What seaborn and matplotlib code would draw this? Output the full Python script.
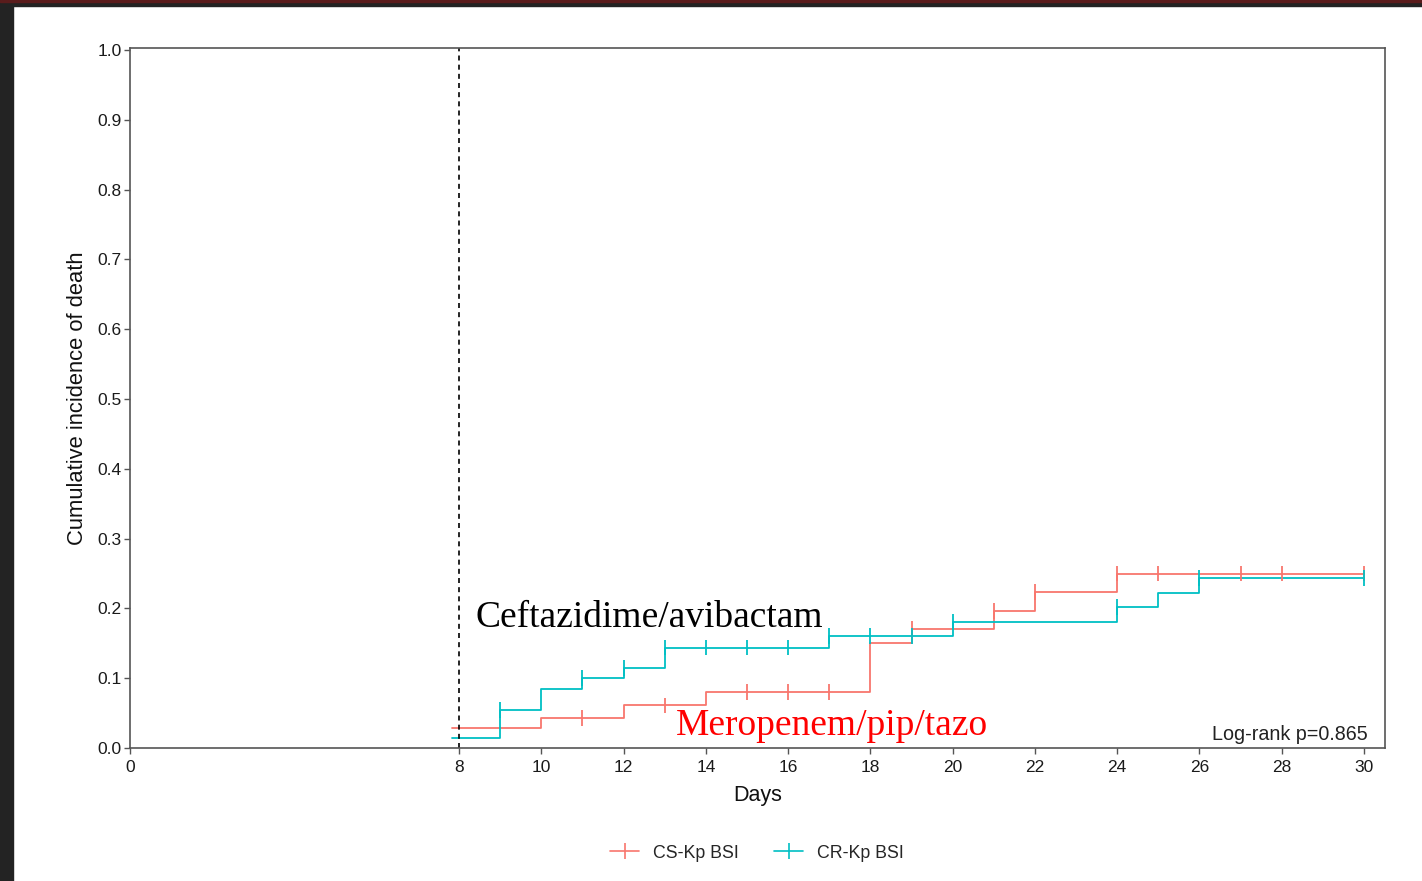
import numpy as np
import pandas as pd
import matplotlib
matplotlib.use("Agg")
import matplotlib.pyplot as plt
from matplotlib.lines import Line2D
from matplotlib.patches import Rectangle
import seaborn as sns

# ---- data ----
groups = ["CS-Kp BSI", "CR-Kp BSI"]
cs_times = [7.82, 10, 12, 14, 18, 19, 21, 22, 24, 30]
cs_values = [0.028, 0.043, 0.061, 0.080, 0.150, 0.170, 0.196, 0.223, 0.250, 0.250]
cr_times = [7.82, 9, 10, 11, 12, 13, 17, 20, 24, 25, 26, 30]
cr_values = [0.014, 0.055, 0.0845, 0.100, 0.115, 0.144, 0.160, 0.180, 0.2025, 0.2215, 0.243, 0.243]
cs_censor = [11, 13, 15, 16, 17, 19, 21, 22, 24, 25, 27, 28, 30]
cr_censor = [9, 11, 12, 13, 14, 15, 16, 17, 18, 19, 20, 24, 26, 30]
x_ticks = [0, 8, 10, 12, 14, 16, 18, 20, 22, 24, 26, 28, 30]
y_ticks = [0.0, 0.1, 0.2, 0.3, 0.4, 0.5, 0.6, 0.7, 0.8, 0.9, 1.0]
landmark_day = 8
colors = {"CS-Kp BSI": "#F8766D", "CR-Kp BSI": "#00BFC4"}


def step_value(times, values, t):
    idx = np.searchsorted(times, t, side="right") - 1
    return values[max(idx, 0)]


curves = pd.concat([
    pd.DataFrame({"Days": cs_times, "ci": cs_values, "group": groups[0]}),
    pd.DataFrame({"Days": cr_times, "ci": cr_values, "group": groups[1]}),
], ignore_index=True)
censors = pd.concat([
    pd.DataFrame({"Days": cs_censor,
                  "ci": [step_value(cs_times, cs_values, t) for t in cs_censor],
                  "group": groups[0]}),
    pd.DataFrame({"Days": cr_censor,
                  "ci": [step_value(cr_times, cr_values, t) for t in cr_censor],
                  "group": groups[1]}),
], ignore_index=True)

sns.set_theme(style="white")
plt.rcParams["font.family"] = ["Liberation Sans", "DejaVu Sans"]

fig = plt.figure(figsize=(14.22, 8.81), dpi=100)
fig.patch.set_facecolor("white")
ax = fig.add_axes([130 / 1422, 133 / 881, 1255 / 1422, 700 / 881])

sns.lineplot(data=curves, x="Days", y="ci", hue="group", palette=colors,
             estimator=None, drawstyle="steps-post", linewidth=1.3,
             legend=False, ax=ax)
sns.scatterplot(data=censors, x="Days", y="ci", hue="group", palette=colors,
                marker="|", s=130, linewidth=1.3, legend=False, ax=ax, zorder=3)

ax.axvline(landmark_day, color="black", linestyle=(0, (3, 2.5)), linewidth=1.2)

ax.set_xlim(0, 30.51)
ax.set_ylim(0, 1.003)
ax.set_xticks(x_ticks)
ax.set_xticklabels([str(v) for v in x_ticks])
ax.set_yticks(y_ticks)
ax.set_yticklabels([f"{v:.1f}" for v in y_ticks])
ax.tick_params(axis="both", which="both", direction="out", length=4, width=1,
               color="#555555", labelsize=12.5, labelcolor="#1a1a1a",
               bottom=True, left=True)
ax.tick_params(axis="x", pad=5)
ax.tick_params(axis="y", pad=2)
for sp in ax.spines.values():
    sp.set_color("#555555")
    sp.set_linewidth(1.2)
    sp.set_visible(True)

ax.set_xlabel("Days", fontsize=15.5, color="#111111", labelpad=7)
ax.set_ylabel("Cumulative incidence of death", fontsize=15.8, color="#111111",
              labelpad=7)

ax.text(8.41, 0.187, "Ceftazidime/avibactam", family="Liberation Serif",
        fontsize=27, color="black", ha="left", va="center")
ax.text(13.27, 0.032, "Meropenem/pip/tazo", family="Liberation Serif",
        fontsize=27, color="red", ha="left", va="center")
ax.text(30.1, 0.02, "Log-rank p=0.865", fontsize=14.2, color="#222222",
        ha="right", va="center")

handles = [Line2D([0], [0], color=colors[g], lw=1.2, marker="|", markersize=12,
                  markeredgewidth=1.2) for g in groups]
fig.legend(handles, groups, loc="center", bbox_to_anchor=(757 / 1422, 28 / 881),
           ncol=2, frameon=False, fontsize=12.8, handlelength=1.6,
           columnspacing=2.0, handletextpad=0.8)

# dark screenshot frame
fig.patches.append(Rectangle((0, 0), 13 / 1422, 1, transform=fig.transFigure,
                             color="#232323", zorder=10))
fig.patches.append(Rectangle((0, 1 - 6 / 881), 1, 6 / 881, transform=fig.transFigure,
                             color="#232323", zorder=10))
fig.patches.append(Rectangle((0, 1 - 2 / 881), 1, 2 / 881, transform=fig.transFigure,
                             color="#5a1c1c", zorder=11))

fig.savefig("out.png", dpi=100, facecolor="white")
